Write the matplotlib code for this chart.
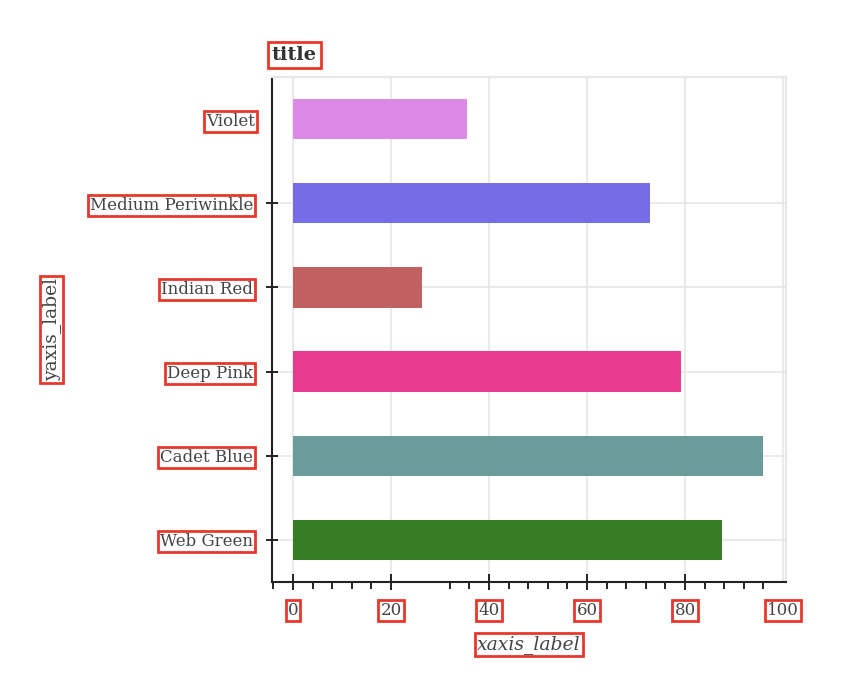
import matplotlib
matplotlib.use("Agg")
import matplotlib.pyplot as plt
from matplotlib.ticker import FixedLocator

categories = ["Web Green", "Cadet Blue", "Deep Pink", "Indian Red", "Medium Periwinkle", "Violet"]
values = [87.5, 95.9, 79.2, 26.3, 72.9, 35.6]
colors = ["#387c24", "#6a9c9c", "#e83a8f", "#c06060", "#766de6", "#dd8ae6"]
x_ticks = [0, 20, 40, 60, 80, 100]
x_minor = [-4, 4, 8, 12, 16, 32, 36, 44, 48, 52, 56, 64, 68, 72, 76, 84, 88, 92, 96]

plt.rcParams['font.family'] = ['DejaVu Serif']
box = dict(boxstyle='square,pad=0.12', fc='none', ec='#e8382a', lw=2)

fig = plt.figure(figsize=(8.42, 6.78), dpi=100)
ax = fig.add_axes([0.323, 0.1416, 0.6105, 0.7448])

ypos = list(range(len(categories)))
ax.barh(ypos, values, height=0.48, color=colors, zorder=3)

ax.set_xlim(-4.3, 100.6)
ax.set_ylim(-0.5, 5.5)

# y ticks: major (with tick marks/grid) for all but top category
ax.yaxis.set_major_locator(FixedLocator(ypos[:-1]))
ax.set_yticklabels(categories[:-1])
ax.yaxis.set_minor_locator(FixedLocator([ypos[-1]]))
ax.set_yticklabels([categories[-1]], minor=True)
ax.tick_params(axis='y', which='major', direction='inout', length=9, width=1.2, pad=9,
               labelsize=12, labelcolor='#444444')
ax.tick_params(axis='y', which='minor', length=0, pad=12, labelsize=12, labelcolor='#444444')

ax.set_xticks(x_ticks)
ax.set_xticks(x_minor, minor=True)
ax.tick_params(axis='x', which='major', direction='inout', length=11, width=1.2, pad=9,
               labelsize=12, labelcolor='#444444')
ax.tick_params(axis='x', which='minor', direction='out', length=5, width=1.2)
ax.xaxis.get_major_ticks()[-1].tick1line.set_visible(False)

ax.grid(True, which='major', color='#e6e6e6', lw=1.2, zorder=0)
ax.set_axisbelow(True)

for s in ['top', 'right']:
    ax.spines[s].set_color('#e6e6e6')
    ax.spines[s].set_linewidth(1.5)
for s in ['left', 'bottom']:
    ax.spines[s].set_color('#222222')
    ax.spines[s].set_linewidth(1.5)

for lbl in ax.get_xticklabels() + ax.get_yticklabels() + ax.get_yticklabels(minor=True):
    lbl.set_bbox(box)

ax.set_title('title', loc='left', fontsize=14, fontweight='bold', color='#333333', pad=12,
             bbox=dict(boxstyle='square,pad=0.2', fc='none', ec='#e8382a', lw=2))
ax.set_xlabel('xaxis_label', fontsize=13.5, style='italic', color='#444444', bbox=box)
ax.xaxis.set_label_coords(0.5, -0.105)
ax.set_ylabel('yaxis_label', fontsize=13.5, color='#444444', bbox=box)
ax.yaxis.set_label_coords(-0.41, 0.5)

fig.savefig('out.png', dpi=100)
